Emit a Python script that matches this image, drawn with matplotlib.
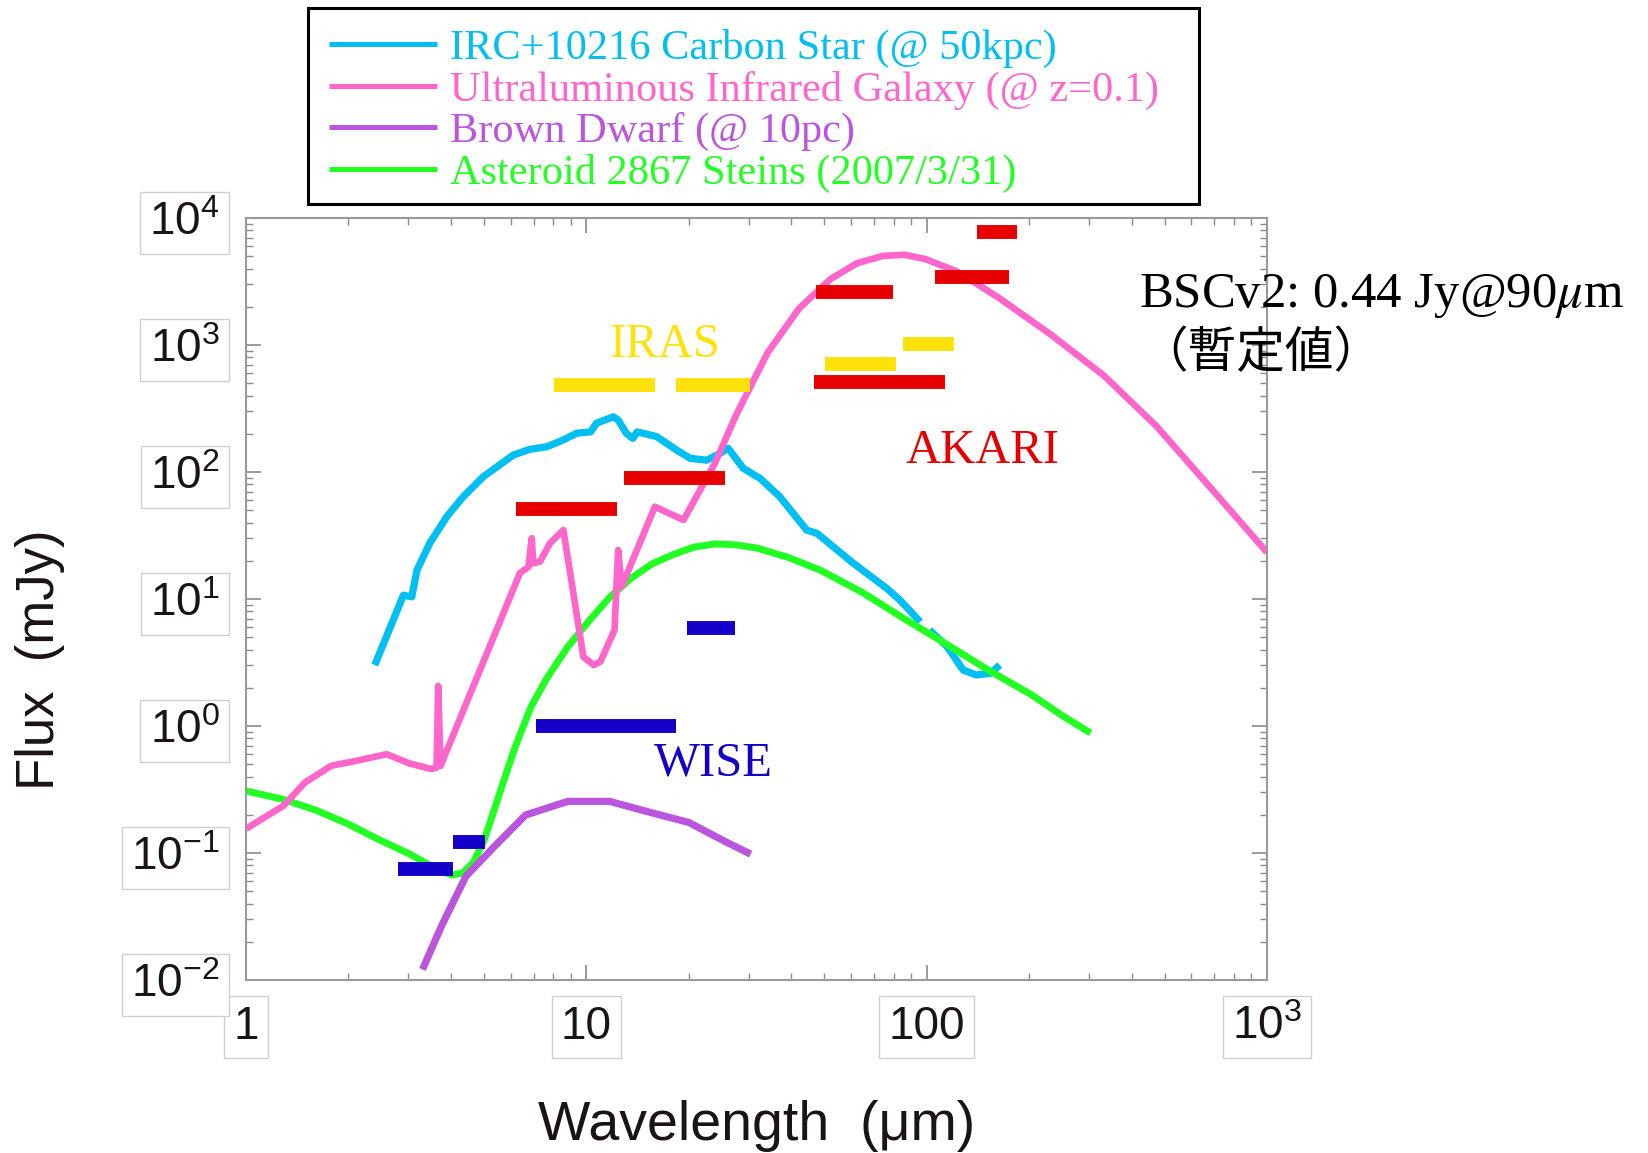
import matplotlib
matplotlib.use("Agg")
import matplotlib.pyplot as plt
from matplotlib.patches import Rectangle
from matplotlib.ticker import NullFormatter

plt.rcParams['font.family'] = ['Liberation Sans', 'DejaVu Sans']
plt.rcParams['mathtext.fontset'] = 'stix'

# IRC+10216 carbon star (NaN = gap in the spectrum)
irc_wl = [2.39, 2.90, 3.07, 3.18, 3.47, 3.89, 4.35, 4.98, 6.10, 6.83, 7.65, 8.56, 9.37,
          10.3, 10.7, 12.0, 12.4, 13.1, 13.7, 14.1, 16.1, 18.4, 20.2, 22.6, 24.7, 26.1,
          28.9, 32.4, 37.0, 44.4, 47.6, 60.9, 76.4, 83.5, 95.7, 98.0,
          102, 115, 128, 140, 154, 164]
irc_flux = [3.02, 10.7, 10.4, 16.9, 27.6, 44.5, 64, 91.8, 136, 151, 158, 179, 202,
            207, 242, 272, 257, 202, 184, 207, 190, 149, 128, 124, 140, 154,
            107, 89, 64, 34.9, 32.9, 19.1, 12.1, 9.8, 6.6, float('nan'),
            5.7, 4.2, 2.76, 2.52, 2.60, 3.02]

# ultraluminous infrared galaxy
ulirg_wl = [1.0, 1.29, 1.49, 1.78, 2.13, 2.59, 3.03, 3.50, 3.63, 3.67, 3.73, 6.38, 6.76,
            6.91, 6.98, 7.31, 7.82, 8.56, 9.16, 9.80, 10.5, 11.0, 12.1, 12.4, 12.7, 15.9,
            19.3, 23.9, 27.5, 34.1, 42.2, 52.2, 62.4, 74.5, 85.9, 99.0, 123, 163, 232,
            332, 473, 676, 1000]
ulirg_flux = [0.155, 0.236, 0.359, 0.486, 0.535, 0.60, 0.506, 0.459, 0.47, 2.07, 0.486, 16.0, 17.9,
              30.1, 19.1, 19.7, 27.5, 34.9, 11.1, 3.51, 3.02, 3.21, 5.70, 24.3, 12.5, 53.3,
              41.9, 118, 278, 871, 1941, 3311, 4404, 5033, 5131, 4756, 3785, 2351, 1205,
              573, 230, 77.4, 23.3]

# brown dwarf
bd_wl = [3.30, 3.76, 4.43, 5.36, 6.63, 8.82, 11.7, 15.6, 20.0, 25.6, 30.4]
bd_flux = [0.0121, 0.0269, 0.0658, 0.112, 0.199, 0.255, 0.255, 0.207, 0.174, 0.123, 0.098]

# asteroid 2867 Steins
ast_wl = [1.0, 1.29, 1.60, 1.98, 2.45, 3.03, 3.62, 4.03, 4.33, 4.65, 4.99, 5.36, 5.75,
          6.18, 6.88, 7.65, 8.82, 10.2, 11.7, 13.5, 15.6, 18.0, 20.7, 23.9, 27.5, 31.7,
          39.3, 48.6, 64.6, 85.9, 114, 152, 202, 250, 303]
ast_flux = [0.308, 0.264, 0.218, 0.171, 0.128, 0.098, 0.075, 0.067, 0.0697, 0.084, 0.123, 0.218, 0.387,
            0.685, 1.42, 2.37, 4.20, 6.76, 10.3, 14.5, 18.9, 22.4, 25.6, 27.2, 26.7, 25.2,
            21.2, 16.9, 11.3, 7.0, 4.43, 2.75, 1.78, 1.21, 0.88]

# survey sensitivities: band start, band end, flux limit
iras_lo = [8.04, 18.3, 50.4, 85.3]
iras_hi = [15.9, 30.2, 81.2, 120]
iras_lim = [483, 483, 706, 1017]

akari_lo = [6.22, 12.9, 47.2, 46.6, 106, 141]
akari_hi = [12.3, 25.6, 79.4, 113, 174, 184]
akari_lim = [51, 90, 2637, 512, 3435, 7800]

wise_lo = [2.79, 4.06, 7.13, 19.8]
wise_hi = [4.06, 5.03, 18.3, 27.3]
wise_lim = [0.075, 0.123, 1.0, 5.9]

W, H = 1649, 1153
fig = plt.figure(figsize=(W / 100, H / 100), dpi=100)
ax = fig.add_axes([246 / W, 1 - 980 / H, 1021 / W, 762 / H])

c_irc = '#00BFF3'
c_ulirg = '#FF66CC'
c_bd = '#BB55DD'
c_ast = '#22FF22'

line_kw = dict(solid_joinstyle='round', solid_capstyle='butt')
l_irc, = ax.plot(irc_wl, irc_flux, color=c_irc, lw=5.2, zorder=2,
                 label='IRC+10216 Carbon Star (@ 50kpc)', **line_kw)
l_ast, = ax.plot(ast_wl, ast_flux, color=c_ast, lw=5.0, zorder=2.1,
                 label='Asteroid 2867 Steins (2007/3/31)', **line_kw)
l_bd, = ax.plot(bd_wl, bd_flux, color=c_bd, lw=5.2, zorder=2.2,
                label='Brown Dwarf (@ 10pc)', **line_kw)
l_ulirg, = ax.plot(ulirg_wl, ulirg_flux, color=c_ulirg, lw=4.8, zorder=2.3,
                   label='Ultraluminous Infrared Galaxy (@ z=0.1)', **line_kw)

ax.hlines(iras_lim, iras_lo, iras_hi, color='#FFE20A', lw=10, zorder=3)
ax.hlines(akari_lim, akari_lo, akari_hi, color='#E60000', lw=10, zorder=3)
ax.hlines(wise_lim, wise_lo, wise_hi, color='#1400C8', lw=10, zorder=3)

serif = ['Liberation Serif', 'DejaVu Serif']
ax.text(17.0, 809, 'IRAS', color='#FFE20A', fontsize=35, family=serif, ha='center', va='baseline')
ax.text(146, 117, 'AKARI', color='#E60000', fontsize=35, family=serif, ha='center', va='baseline')
ax.text(23.6, 0.404, 'WISE', color='#1400C8', fontsize=35, family=serif, ha='center', va='baseline')

ax.set_xscale('log')
ax.set_yscale('log')
ax.set_xlim(1, 1000)
ax.set_ylim(1e-2, 1e4)

ax.set_xticks([1, 10, 100, 1000], labels=['1', '10', '100', r'$\mathregular{10^{3}}$'])
ax.set_yticks([1e-2, 1e-1, 1, 10, 100, 1000, 1e4],
              labels=[r'$\mathregular{10^{-2}}$', r'$\mathregular{10^{-1}}$', r'$\mathregular{10^{0}}$',
                      r'$\mathregular{10^{1}}$', r'$\mathregular{10^{2}}$', r'$\mathregular{10^{3}}$',
                      r'$\mathregular{10^{4}}$'])
ax.xaxis.set_minor_formatter(NullFormatter())
ax.yaxis.set_minor_formatter(NullFormatter())

ax.tick_params(which='both', direction='in', top=True, right=True, color='#8a8a8a',
               labelsize=33, labelcolor='#1a1414')
ax.tick_params(which='major', length=11, width=1.2)
ax.tick_params(which='minor', length=5, width=1.0)
ax.tick_params(axis='y', pad=19)
ax.tick_params(axis='x', pad=18)
for lbl in ax.get_xticklabels() + ax.get_yticklabels():
    lbl.set_bbox(dict(boxstyle='square,pad=0.2', fc='white', ec='#cfcfcf', lw=1))

for sp in ax.spines.values():
    sp.set_color('#9a9a9a')
    sp.set_linewidth(1.5)

fig.text(757 / W, 1 - 1140 / H, 'Wavelength  (\u03bcm)', fontsize=40, color='#1a1414',
         ha='center', va='baseline')
fig.text(40 / W, 1 - 660 / H, 'Flux  (mJy)', fontsize=38, color='#1a1414',
         ha='center', va='center', rotation=90)

fig.text(1139 / W, 1 - 307 / H, r'BSCv2: 0.44 Jy@90$\mu$m', fontsize=36.5, family=serif,
         ha='left', va='baseline')
fig.text(1139 / W, 1 - 367 / H, '\uff08\u66ab\u5b9a\u5024\uff09', fontsize=35,
         family=['Noto Sans CJK JP', 'DejaVu Sans'], ha='left', va='baseline')

leg = ax.legend(handles=[l_irc, l_ulirg, l_bd, l_ast], loc='upper left',
                bbox_to_anchor=(329 / W, 1 - 29 / H), bbox_transform=fig.transFigure,
                frameon=False, borderpad=0, borderaxespad=0, handlelength=2.55,
                handletextpad=0.3, labelspacing=0.06, labelcolor='linecolor',
                prop={'family': serif, 'size': 30.5})
for h in leg.legend_handles:
    h.set_linewidth(3.6)

fig.add_artist(Rectangle((308 / W, 1 - 204 / H), (1199 - 308) / W, (204 - 8) / H,
                         transform=fig.transFigure, fill=False, ec='black', lw=2.2))

fig.savefig('out.png', dpi=100)
